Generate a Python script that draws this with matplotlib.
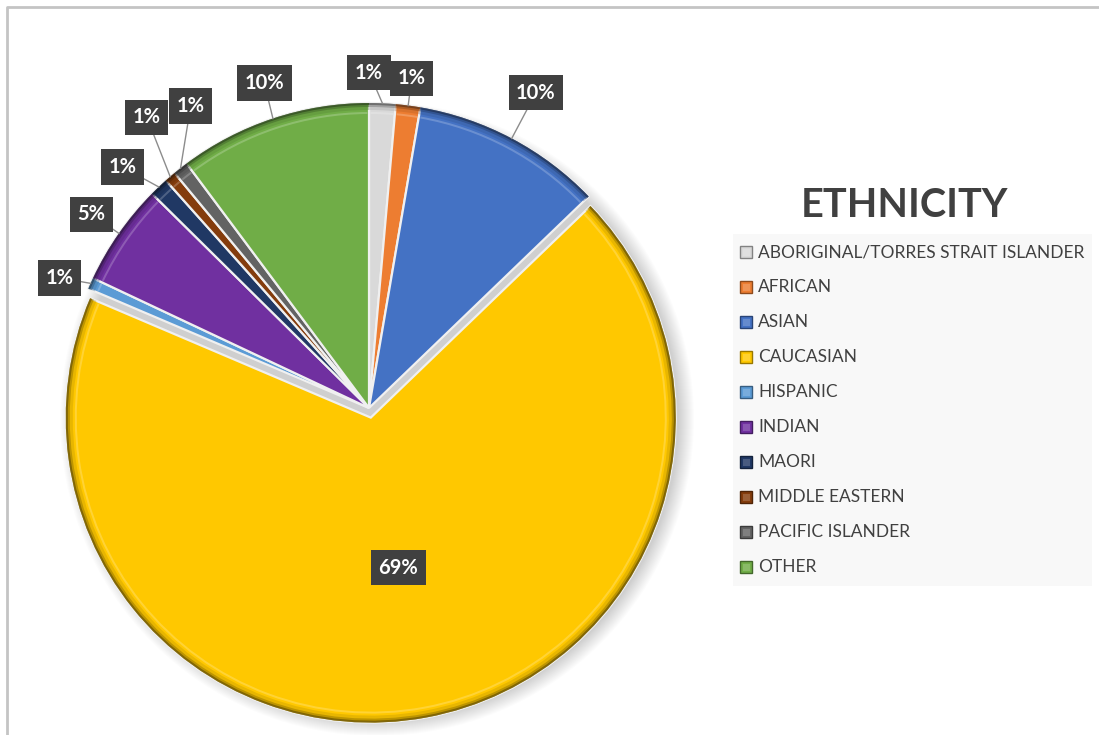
import numpy as np
import matplotlib
matplotlib.use("Agg")
import matplotlib.pyplot as plt
from matplotlib.patches import Wedge, Circle, Rectangle
import matplotlib.colors as mcolors

plt.rcParams['font.family'] = ['Lato', 'DejaVu Sans']

# ---- data ----
categories = ["ABORIGINAL/TORRES STRAIT ISLANDER", "AFRICAN", "ASIAN", "CAUCASIAN",
              "HISPANIC", "INDIAN", "MAORI", "MIDDLE EASTERN", "PACIFIC ISLANDER", "OTHER"]
shares = [1.4, 1.3, 10.1, 68.6, 0.6, 5.4, 1.0, 0.6, 0.8, 10.2]
colors = ["#d9d9d9", "#ed7d31", "#4472c4", "#ffc800", "#5b9bd5",
          "#7030a0", "#203864", "#843c0c", "#636363", "#70ad47"]
title = "ETHNICITY"

W, H = 1099, 735
fig = plt.figure(figsize=(W / 100, H / 100), dpi=100)
ax = fig.add_axes([0, 0, 1, 1])

cx, cy, R = 369, H - 408, 305
# pie explode offsets are in data units, so scale by the radius
explode = [0.032 * R if c == "CAUCASIAN" else 0.0 for c in categories]

# soft drop shadow under the pie
for i in range(16):
    ax.add_patch(Circle((cx + 8, cy - 11), R + 12 - i, facecolor="#000000",
                        alpha=0.013, edgecolor="none", zorder=0))

wedges, _ = ax.pie(shares, colors=colors, startangle=90, counterclock=False,
                   explode=explode, center=(cx, cy), radius=R,
                   wedgeprops=dict(edgecolor="#f0f0f0", linewidth=1.6), frame=True)

def shade(c, f):
    r, g, b = mcolors.to_rgb(c)
    if f < 1:
        return (r * f, g * f, b * f)
    return (r + (1 - r) * (f - 1), g + (1 - g) * (f - 1), b + (1 - b) * (f - 1))

# bevel: darker outer rim and a light inner highlight
for w, c in zip(wedges, colors):
    for wd, f, a in [(7, 0.75, 0.35), (4, 0.6, 0.55), (2, 0.45, 0.8)]:
        ax.add_patch(Wedge(w.center, w.r, w.theta1, w.theta2, width=wd,
                           facecolor=shade(c, f), edgecolor="none", alpha=a, zorder=2))
    ax.add_patch(Wedge(w.center, w.r - 9, w.theta1 + 0.3, w.theta2 - 0.3, width=2,
                       facecolor=shade(c, 1.35), edgecolor="none", alpha=0.6, zorder=2))

# data labels: (radial factor, angular shift in degrees, counter-clockwise)
label_pos = {
    "ABORIGINAL/TORRES STRAIT ISLANDER": (1.10, 2.5),
    "AFRICAN": (1.09, 0.0),
    "ASIAN": (1.17, 0.0),
    "CAUCASIAN": (0.50, 0.0),
    "HISPANIC": (1.10, 1.3),
    "INDIAN": (1.11, 0.0),
    "MAORI": (1.13, 2.1),
    "MIDDLE EASTERN": (1.20, -3.3),
    "PACIFIC ISLANDER": (1.15, -7.6),
    "OTHER": (1.12, -0.5),
}
for w, cat, s in zip(wedges, categories, shares):
    mid = 0.5 * (w.theta1 + w.theta2)
    fr, shift = label_pos[cat]
    ang = np.deg2rad(mid + shift)
    ox, oy = w.center
    lx, ly = ox + fr * w.r * np.cos(ang), oy + fr * w.r * np.sin(ang)
    if fr > 1:
        ex = ox + w.r * np.cos(np.deg2rad(mid))
        ey = oy + w.r * np.sin(np.deg2rad(mid))
        ax.plot([ex, lx], [ey, ly], color="#8c8c8c", lw=1.0, zorder=3)
    ax.text(lx, ly, f"{round(s):.0f}%", ha="center", va="center", color="white",
            fontsize=14.5, fontweight="bold", zorder=5,
            bbox=dict(boxstyle="square,pad=0.38", facecolor="#404040",
                      edgecolor="none"))

# legend panel
ax.text(904, H - 205, title, ha="center", va="center", fontsize=28.5,
        fontweight="bold", color="#404040")
ax.add_patch(Rectangle((733, H - 586), 359, 352, facecolor="#f8f8f8",
                       edgecolor="none", zorder=1))
for i, (cat, c) in enumerate(zip(categories, colors)):
    y = H - (252 + 35 * i)
    ax.add_patch(Rectangle((740, y - 6), 12, 12, facecolor=c,
                           edgecolor=shade(c, 0.6), lw=1.0, zorder=3))
    ax.add_patch(Rectangle((742.5, y - 3.5), 7, 7, facecolor=shade(c, 1.3),
                           edgecolor="none", alpha=0.6, zorder=3))
    ax.text(758, y, cat, ha="left", va="center", fontsize=12.5, color="#404040",
            zorder=3)

# chart border (top and left)
ax.plot([7, 7, W], [0, H - 7, H - 7], color="#c4c4c4", lw=2, zorder=6)

ax.set_xlim(0, W)
ax.set_ylim(0, H)
ax.set_aspect("auto")
ax.axis("off")
fig.savefig("out.png", dpi=100, facecolor="white")
